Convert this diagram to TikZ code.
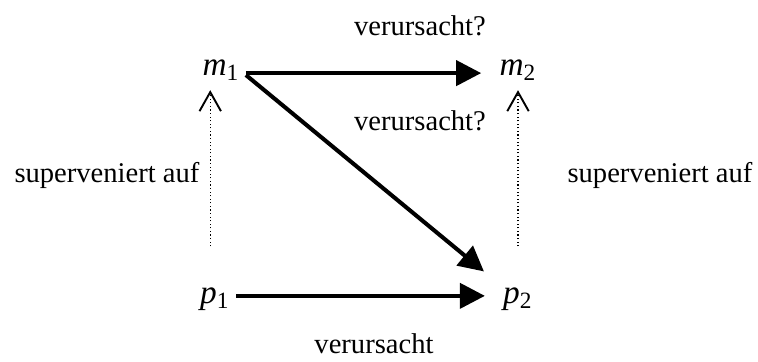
\documentclass[tikz,border=0pt]{standalone}
\usepackage{fontspec}
\setmainfont{Liberation Serif}
\usetikzlibrary{arrows.meta,positioning,calc}
\newcommand{\mvar}[2]{\textit{#1}\textsubscript{#2}}

\begin{document}
\begin{tikzpicture}[
    x=0.01475cm, y=-0.01475cm,
    state/.style={inner xsep=2.5pt, inner ysep=2pt, anchor=base, font=\fontsize{14}{16}\selectfont},
    lbl/.style={anchor=base, inner sep=0pt, font=\fontsize{12}{14}\selectfont},
    cause/.style={line width=1.7pt, -{Triangle[length=10.5pt, width=10.5pt]}},
    superv/.style={line width=0.5pt, densely dotted,
                   -{Straight Barb[length=8pt, width=9pt, line width=0.8pt]}},
  ]
  \useasboundingbox (0,0) rectangle (758,361);

  % ---------------- states
  \node[state] (m1) at (221,75) {\mvar{m}{1}};
  \node[state] (m2) at (518,75) {\mvar{m}{2}};
  \node[state] (p1) at (215,303) {\mvar{p}{1}};
  \node[state] (p2) at (518,303) {\mvar{p}{2}};

  % ---------------- labels
  \node[lbl] (ltop) at (420,35) {verursacht?};
  \node[lbl] (lmid) at (420,130) {verursacht?};
  \node[lbl] (lbot) at (374,353) {verursacht};
  \node[lbl] (lleft) at (107,182) {superveniert auf};
  \node[lbl] (lright) at (660,182) {superveniert auf};

  % ---------------- causation
  \draw[cause, shorten >=5pt] ([yshift=0.8pt]m1.base east) -- ([yshift=0.8pt]m2.base west);
  \draw[cause, shorten >=5pt] ([yshift=3pt]p1.base east) -- ([yshift=3pt]p2.base west);
  \draw[cause, shorten >=7pt] (m1.base east) -- (p2.north west);

  % ---------------- supervenience
  \draw[superv, shorten <=15pt, shorten >=2pt] ([xshift=-2pt]p1.north) -- ([xshift=-2pt]p1.north |- m1.south);
  \draw[superv, shorten <=15pt, shorten >=2pt] (p2.north) -- (p2.north |- m2.south);
\end{tikzpicture}
\end{document}
